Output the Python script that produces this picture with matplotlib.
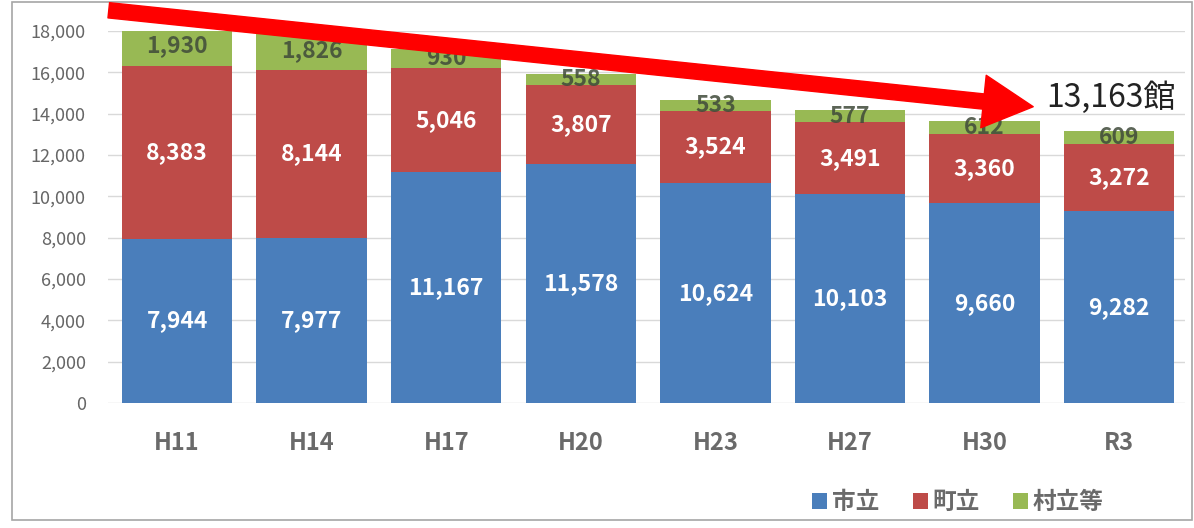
import numpy as np
import matplotlib.pyplot as plt
import matplotlib.patches as mpatches

plt.rcParams['font.family'] = ['Noto Sans CJK JP', 'DejaVu Sans']

years = ['H11', 'H14', 'H17', 'H20', 'H23', 'H27', 'H30', 'R3']
shiritsu = [7944, 7977, 11167, 11578, 10624, 10103, 9660, 9282]
choritsu = [8383, 8144, 5046, 3807, 3524, 3491, 3360, 3272]
sonritsu = [1930, 1826, 930, 558, 533, 577, 612, 609]
total_label = '13,163館'

c_blue = '#4A7EBB'
c_red = '#BE4B48'
c_green = '#98B954'

fig = plt.figure(figsize=(11.94, 5.28), dpi=100)
ax = fig.add_axes([0.0905, 0.2367, 0.902, 0.7045])

x = np.arange(len(years))
s = np.array(shiritsu)
c = np.array(choritsu)
v = np.array(sonritsu)
w = 0.82
b1 = ax.bar(x, s, w, color=c_blue, label='市立', zorder=2)
b2 = ax.bar(x, c, w, bottom=s, color=c_red, label='町立', zorder=2)
b3 = ax.bar(x, v, w, bottom=s + c, color=c_green, label='村立等', zorder=2)

for i in range(len(years)):
    ax.text(x[i], s[i] / 2, f'{s[i]:,}', ha='center', va='center',
            color='white', fontsize=16.5, fontweight='bold', zorder=3)
    ax.text(x[i], s[i] + c[i] / 2, f'{c[i]:,}', ha='center', va='center',
            color='white', fontsize=16.5, fontweight='bold', zorder=3)
    ax.text(x[i], s[i] + c[i] + v[i] / 2, f'{v[i]:,}', ha='center', va='center',
            color='#3f4a3a', fontsize=16.5, fontweight='bold', zorder=3, alpha=0.85)

ax.set_xlim(-0.513, len(years) - 0.51)
ax.set_ylim(0, 18000)
ax.set_yticks(np.arange(0, 18001, 2000))
ax.set_yticklabels([f'{t:,}' for t in range(0, 18001, 2000)], fontsize=13, color='#666666')
ax.set_xticks(x)
ax.set_xticklabels(years, fontsize=17, fontweight='bold', color='#6a6a6a')
ax.tick_params(axis='x', length=0, pad=20)
ax.tick_params(axis='y', length=0, pad=16)
ax.grid(axis='y', color='#d9d9d9', linewidth=1, zorder=0)
for sp in ax.spines.values():
    sp.set_visible(False)

# outer frame
fig.patches.append(mpatches.Rectangle((12 / 1194, 8 / 528), 1180 / 1194, 518 / 528,
                                      transform=fig.transFigure, fill=False,
                                      edgecolor='#a6a6a6', linewidth=1.2))

# red arrow
arrow = mpatches.FancyArrowPatch((1.06, 5.18), (10.36, 4.21),
                                 transform=fig.dpi_scale_trans,
                                 arrowstyle='simple,head_length=36,head_width=38,tail_width=11',
                                 mutation_scale=1, color='#FF0000', zorder=10)
fig.patches.append(arrow)
fig.text(1046 / 1194, 1 - 98 / 528, total_label, fontsize=23, color='#222222',
         ha='left', va='center')

fig.legend(handles=[b1, b2, b3], loc='center', bbox_to_anchor=(958 / 1194, 1 - 502 / 528),
           ncol=3, frameon=False, handlelength=0.65, handleheight=0.65, handletextpad=0.2,
           columnspacing=1.4, prop={'size': 17, 'weight': 'bold'}, labelcolor='#6a6a6a')

fig.savefig('out.png', dpi=100)
